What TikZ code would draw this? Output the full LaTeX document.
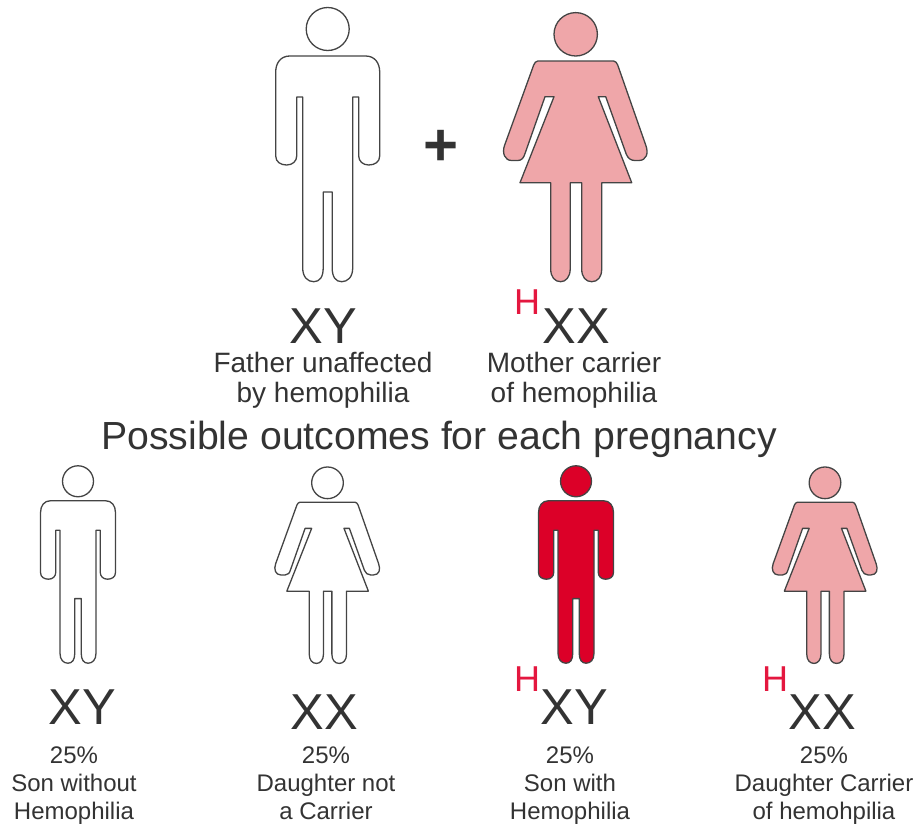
\documentclass[tikz,border=0pt]{standalone}
\usepackage{fontspec}
\setmainfont{Liberation Sans}
\definecolor{txt}{HTML}{333333}
\definecolor{outl}{HTML}{444444}
\definecolor{carrier}{HTML}{EFA6A9}
\definecolor{affected}{HTML}{DC0028}
\definecolor{hmark}{HTML}{E4173F}
\tikzset{
  x=1pt,y=-1pt,
  male/.pic={
    \path[draw=outl,line width=1.3pt,line join=round,pic actions]
      (0,-27) circle[radius=21.5];
    \path[draw=outl,line width=1.3pt,line join=round,pic actions]
      (-38,0) -- (38,0) .. controls (47,0) and (52,7) .. (52,16) -- (52,100)
      .. controls (52,106) and (47,109) .. (41,109) .. controls (35,109) and (31,105) .. (31,100)
      -- (31,41) -- (25,41) -- (25,212) .. controls (25,221) and (20,225.7) .. (14,225.7)
      .. controls (8,225.7) and (4.5,221) .. (4.5,212) -- (4.5,136) -- (-4.5,136) -- (-4.5,212)
      .. controls (-4.5,221) and (-8,225.7) .. (-14,225.7) .. controls (-20,225.7) and (-25,221) .. (-25,212)
      -- (-25,41) -- (-31,41) -- (-31,100) .. controls (-31,105) and (-35,109) .. (-41,109)
      .. controls (-47,109) and (-52,106) .. (-52,100) -- (-52,16) .. controls (-52,7) and (-47,0) .. (-38,0) -- cycle;
  },
  female/.pic={
    \path[draw=outl,line width=1.3pt,line join=round,pic actions]
      (0,-26.7) circle[radius=21.7];
    \path[draw=outl,line width=1.3pt,line join=round,pic actions]
      (-38,0) -- (38,0) .. controls (40,0) and (41,2) .. (42,4) -- (70,84)
      .. controls (73,92) and (71,99.5) .. (63,99.5) -- (59,99.5) .. controls (55,99.5) and (52,97) .. (50.5,93)
      -- (30,35.7) -- (22.6,35.7) -- (56,121.7) -- (26,121.7) -- (26,208)
      .. controls (26,216) and (22,220.7) .. (16,220.7) .. controls (10,220.7) and (6,216) .. (6,208)
      -- (6,121.7) -- (-5.5,121.7) -- (-5.5,208) .. controls (-5.5,216) and (-10,220.7) .. (-15,220.7)
      .. controls (-21,220.7) and (-25,216) .. (-25,208) -- (-25,121.7) -- (-55.7,121.7) -- (-21.7,35.7) -- (-30.7,35.7)
      -- (-50.5,92) .. controls (-52,97) and (-54,99.5) .. (-58,99.5) -- (-64,99.5) .. controls (-71,99.5) and (-74,92) .. (-71,84)
      -- (-42,4) .. controls (-41,2) and (-40,0) .. (-38,0) -- cycle;
  },
  chrom/.style={anchor=base,text=txt,inner sep=0pt,font=\fontsize{50.5}{50}\selectfont},
  hlabel/.style={anchor=base,text=hmark,inner sep=0pt,font=\fontsize{36}{36}\selectfont},
  caplabel/.style={anchor=base,text=txt,inner sep=0pt,font=\fontsize{28}{28}\selectfont},
  smallcap/.style={anchor=base,text=txt,inner sep=0pt,font=\fontsize{24}{24}\selectfont},
}
\begin{document}
\begin{tikzpicture}
\useasboundingbox (0,0) rectangle (917,823);
\pic[fill=white] at (327.7,56) {male};
\pic[fill=carrier] at (575.7,61) {female};
\pic[fill=white,scale=.72] at (78,500.7) {male};
\pic[fill=white,scale=.73] at (327.5,502.3) {female};
\pic[fill=affected,scale=.72] at (576,500.7) {male};
\pic[fill=carrier,scale=.73] at (825,502.3) {female};
\node[anchor=base,text=txt,inner sep=0pt,font=\bfseries\fontsize{60}{60}\selectfont] (plus) at (441,165) {+};
\node[chrom] (xy1) at (323.5,343) {XY};
\node[chrom] (xx1) at (576.5,343) {XX};
\node[hlabel] (h1) at (527,314) {H};
\node[caplabel] (f1) at (323,372) {Father unaffected};
\node[caplabel] (f2) at (323,402) {by hemophilia};
\node[caplabel] (m1) at (574,372) {Mother carrier};
\node[caplabel] (m2) at (574,402) {of hemophilia};
\node[anchor=base,text=txt,inner sep=0pt,font=\fontsize{39.2}{39}\selectfont] (title) at (439,449) {Possible outcomes for each pregnancy};
\node[chrom] (xy2) at (82,724) {XY};
\node[chrom] (xx2) at (324,729) {XX};
\node[chrom] (xy3) at (574,724) {XY};
\node[hlabel] (h3) at (527,691) {H};
\node[chrom] (xx4) at (822,729) {XX};
\node[hlabel] (h4) at (775,691) {H};
\node[smallcap] (a1) at (74,763) {25\%};
\node[smallcap] (a2) at (74,791) {Son without};
\node[smallcap] (a3) at (74,819) {Hemophilia};
\node[smallcap] (b1) at (326,763) {25\%};
\node[smallcap] (b2) at (326,791) {Daughter not};
\node[smallcap] (b3) at (326,819) {a Carrier};
\node[smallcap] (c1) at (570,763) {25\%};
\node[smallcap] (c2) at (570,791) {Son with};
\node[smallcap] (c3) at (570,819) {Hemophilia};
\node[smallcap] (d1) at (824,763) {25\%};
\node[smallcap] (d2) at (824,791) {Daughter Carrier};
\node[smallcap] (d3) at (824,819) {of hemohpilia};
\end{tikzpicture}
\end{document}
